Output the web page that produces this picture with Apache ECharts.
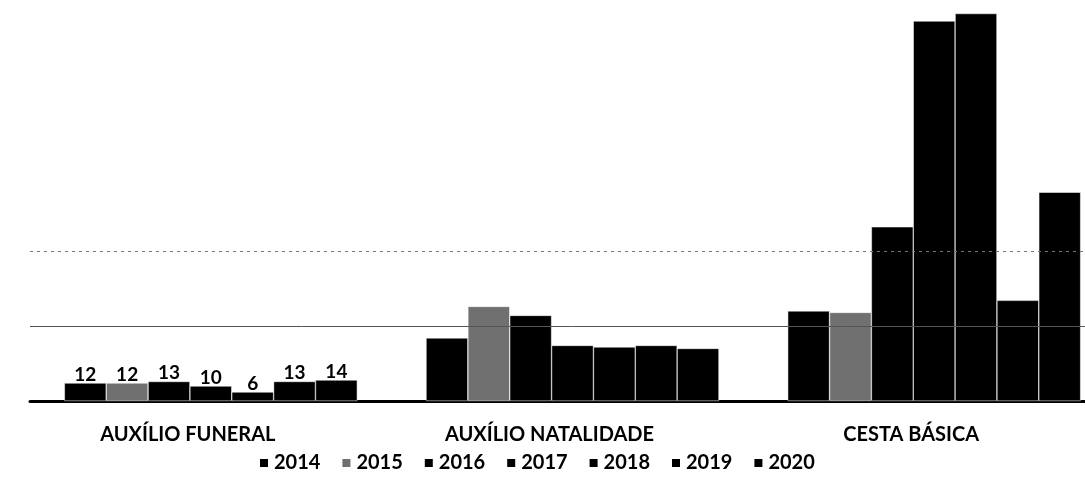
<!DOCTYPE html>
<html>
<head>
<meta charset="utf-8">
<script src="https://cdn.jsdelivr.net/npm/echarts@6/dist/echarts.min.js"></script>
<style>
  html, body { margin: 0; padding: 0; background: #fff; overflow: hidden; }
  #chart { width: 1120px; height: 495px; }
</style>
</head>
<body>
<div id="chart"></div>
<script>
// categorias e valores por ano
const categorias = ['AUXÍLIO FUNERAL', 'AUXÍLIO NATALIDADE', 'CESTA BÁSICA'];
const anos = ['2014', '2015', '2016', '2017', '2018', '2019', '2020'];
const v2014 = [12, 42, 60];
const v2015 = [12, 63, 59];
const v2016 = [13, 57, 116];
const v2017 = [10, 37, 253];
const v2018 = [6, 36, 258];
const v2019 = [13, 37, 67];
const v2020 = [14, 35, 139];
const valores = [v2014, v2015, v2016, v2017, v2018, v2019, v2020];
const cores = ['#000', '#707070', '#000', '#000', '#000', '#000', '#000'];
const linhas = [50, 100]; // linhas de grade visiveis

const chart = echarts.init(document.getElementById('chart'));

const series = anos.map(function (ano, i) {
  const s = {
    name: ano,
    type: 'bar',
    barGap: '0%',
    barCategoryGap: '19%',
    data: valores[i],
    itemStyle: { color: cores[i], borderColor: '#fff', borderWidth: 0.5 },
    label: {
      show: true,
      position: 'top',
      distance: -1,
      fontFamily: 'Lato',
      fontWeight: 'bold',
      fontSize: 19,
      color: '#000',
      // so o auxilio funeral tem rotulo
      formatter: function (p) { return p.dataIndex === 0 ? p.value : ''; }
    }
  };
  if (i === 0) {
    s.markLine = {
      silent: true,
      symbol: 'none',
      label: { show: false },
      data: [
        { yAxis: linhas[0], lineStyle: { color: '#555', width: 1, type: 'solid' } },
        { yAxis: linhas[1], lineStyle: { color: '#777', width: 1, type: [3, 4] } }
      ]
    };
  }
  return s;
});

chart.setOption({
  animation: false,
  backgroundColor: '#fff',
  grid: { left: 30, top: 0, right: 5, height: 401 },
  legend: {
    data: anos,
    bottom: 17,
    left: 253,
    itemWidth: 10,
    itemHeight: 10,
    itemGap: 20,
    icon: 'rect',
    textStyle: { fontFamily: 'Lato', fontWeight: 'bold', fontSize: 20, color: '#000' }
  },
  xAxis: {
    type: 'category',
    data: categorias,
    axisTick: { show: false },
    axisLine: { lineStyle: { color: '#000', width: 3 } },
    axisLabel: {
      margin: 24,
      padding: [0, 46, 0, 0],
      fontFamily: 'Lato',
      fontWeight: 'bold',
      fontSize: 20,
      color: '#000'
    }
  },
  yAxis: {
    type: 'value',
    min: 0,
    max: 267,
    show: false,
    splitLine: { show: false }
  },
  series: series
});
</script>
</body>
</html>
